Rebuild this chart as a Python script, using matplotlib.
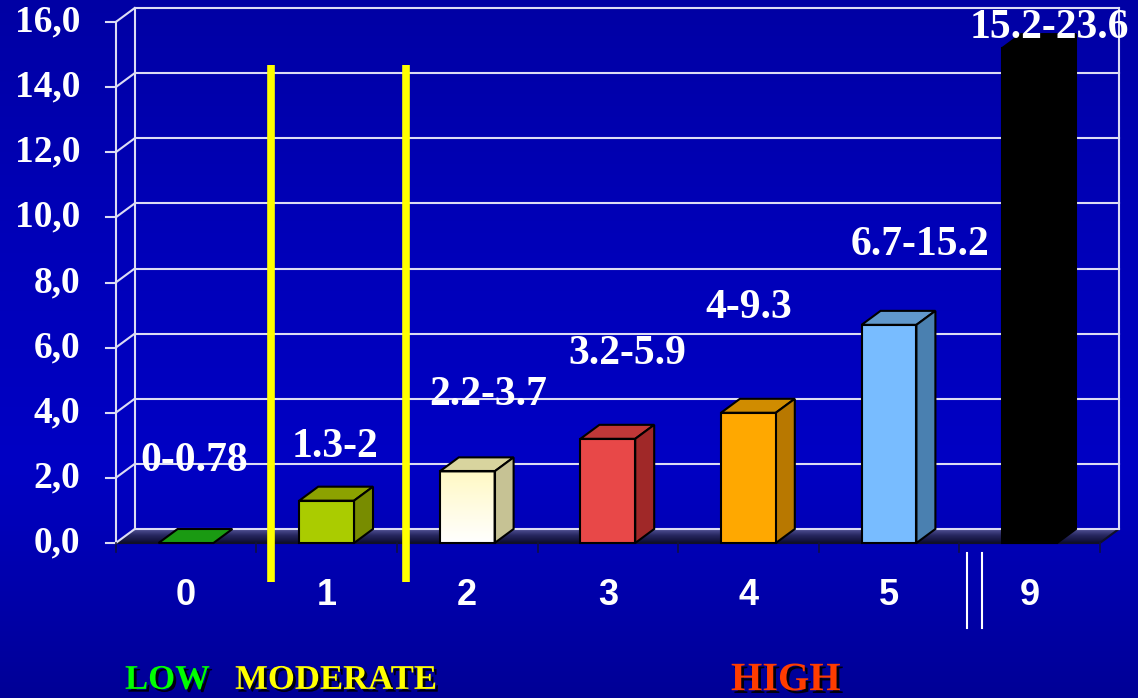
import numpy as np
import matplotlib.pyplot as plt
import matplotlib.patheffects as pe
from matplotlib.patches import Polygon
from matplotlib.colors import LinearSegmentedColormap

categories = ['0', '1', '2', '3', '4', '5', '9']
lower_bound = [0.0, 1.3, 2.2, 3.2, 4.0, 6.7, 15.2]
range_labels = ['0-0.78', '1.3-2', '2.2-3.7', '3.2-5.9', '4-9.3', '6.7-15.2', '15.2-23.6']
y_ticks = [0, 2, 4, 6, 8, 10, 12, 14, 16]
y_tick_labels = ['0,0', '2,0', '4,0', '6,0', '8,0', '10,0', '12,0', '14,0', '16,0']

# face colours: front (top/bottom of the shading), top, side
front_hi = ['#1a9a12', '#aacc00', '#fff9c4', '#e84848', '#ffa800', '#78bcff', '#000000']
front_lo = ['#1a9a12', '#aacc00', '#ffffff', '#e84848', '#ffa800', '#78bcff', '#000000']
top_col = ['#1a9a12', '#8ca200', '#d8d49e', '#c03838', '#d08c00', '#6098cc', '#000000']
side_col = ['#1a9a12', '#788c00', '#c6c294', '#a02828', '#b87800', '#4a80b0', '#000000']

# where the range text sits (x, baseline)
label_xy = [(0.06, 2.2), (1.06, 2.64), (2.15, 4.24), (3.14, 5.5),
            (4.0, 6.9), (5.22, 8.85), (6.14, 15.5)]

W = 0.39               # bar width
DX, DY = 0.135, 0.43   # depth offset of the 3D box
X0, X1 = -0.5, 6.5
SERIF = 'Liberation Serif'
SANS = 'Liberation Sans'

fig = plt.figure(figsize=(11.38, 6.98), dpi=100)
ax = fig.add_axes([0, 0, 1, 1])
xlim = (-1.323, 6.771)
ylim = (-4.76, 16.677)
ax.axis('off')

grad = np.linspace(0, 1, 256).reshape(-1, 1)

# background blue gradient
bg = LinearSegmentedColormap.from_list('bg', ['#000096', '#0000c4', '#0000b8', '#0000a4'])
ax.imshow(grad, cmap=bg, extent=(*xlim, *ylim), origin='lower', aspect='auto', zorder=0)

# floor
floor = Polygon([(X0, 0), (X1, 0), (X1 + DX, DY), (X0 + DX, DY)], closed=True,
                facecolor='none', edgecolor='none')
ax.add_patch(floor)
fcm = LinearSegmentedColormap.from_list('fl', ['#0c0c30', '#26265e', '#5a5aa0'])
im = ax.imshow(grad, cmap=fcm, extent=(X0, X1 + DX, 0, DY), origin='lower',
               aspect='auto', zorder=1)
im.set_clip_path(floor)
ax.plot([X0, X1, X1 + DX], [0, 0, DY], color='#101028', lw=1.5, zorder=2)

# walls and gridlines
gcol = '#dcdcf4'
for v in y_ticks:
    ax.plot([X0 + DX, X1 + DX], [v + DY, v + DY], color=gcol, lw=1.5, zorder=2)
    ax.plot([X0, X0 + DX], [v, v + DY], color=gcol, lw=1.5, zorder=2)
    ax.plot([X0 - 0.07, X0], [v, v], color=gcol, lw=1.5, zorder=2)
ax.plot([X0, X0], [0, y_ticks[-1]], color=gcol, lw=1.5, zorder=2)
ax.plot([X0 + DX, X0 + DX], [DY, y_ticks[-1] + DY], color=gcol, lw=1.5, zorder=2)
ax.plot([X1 + DX, X1 + DX], [DY, y_ticks[-1] + DY], color=gcol, lw=1.5, zorder=2)

# category ticks under the floor
for b in np.arange(X0, X1 + 0.01, 1.0):
    ax.plot([b, b], [0, -0.28], color='#101040', lw=1.2, zorder=2)

# 3D bars
for i, v in enumerate(lower_bound):
    l, r = i - W / 2, i + W / 2
    top = Polygon([(l, v), (r, v), (r + DX, v + DY), (l + DX, v + DY)], closed=True,
                  facecolor=top_col[i], edgecolor='black', lw=1.5, zorder=4)
    ax.add_patch(top)
    if v <= 0:
        continue
    side = Polygon([(r, 0), (r + DX, DY), (r + DX, v + DY), (r, v)], closed=True,
                   facecolor=side_col[i], edgecolor='black', lw=1.5, zorder=4)
    ax.add_patch(side)
    front = Polygon([(l, 0), (r, 0), (r, v), (l, v)], closed=True,
                    facecolor=front_hi[i], edgecolor='black', lw=1.5, zorder=4)
    ax.add_patch(front)
    if front_hi[i] != front_lo[i]:
        # shaded front face
        front.set_facecolor('none')
        cm = LinearSegmentedColormap.from_list('f%d' % i, [front_lo[i], front_hi[i]])
        fim = ax.imshow(grad, cmap=cm, extent=(l, r, 0, v), origin='lower',
                        aspect='auto', zorder=3)
        fim.set_clip_path(front)

# yellow separators
for xs in (0.605, 1.565):
    ax.plot([xs, xs], [-1.2, 14.68], color='#ffff00', lw=5.5, solid_capstyle='butt', zorder=6)

# axis break marks
for xs in (5.555, 5.661):
    ax.plot([xs, xs], [-0.31, -2.61], color='white', lw=1.5, zorder=6)

# y tick labels
for v, t in zip(y_ticks, y_tick_labels):
    ax.text(-0.75, v, t, ha='right', va='center', color='white',
            fontsize=27, fontweight='bold', family=SERIF, zorder=7)

# category labels
for i, c in enumerate(categories):
    ax.text(i, -1.6, c, ha='center', va='center', color='white',
            fontsize=26, fontweight='bold', family=SANS, zorder=7)

# range labels
for (lx, ly), t in zip(label_xy, range_labels):
    ax.text(lx, ly, t, ha='center', va='baseline', color='white',
            fontsize=30, fontweight='bold', family=SERIF, zorder=7)

# risk level captions
shadow = [pe.SimplePatchShadow(offset=(2, -2), shadow_rgbFace='black', alpha=0.9), pe.Normal()]
ax.text(-0.434, -4.48, 'LOW', ha='left', va='baseline', color='#00ff00',
        fontsize=25, fontweight='bold', family=SERIF, path_effects=shadow, zorder=7)
ax.text(0.349, -4.48, 'MODERATE', ha='left', va='baseline', color='#ffff00',
        fontsize=25, fontweight='bold', family=SERIF, path_effects=shadow, zorder=7)
ax.text(3.876, -4.52, 'HIGH', ha='left', va='baseline', color='#ff3c00',
        fontsize=29, fontweight='bold', family=SERIF, path_effects=shadow, zorder=7)

ax.set_xlim(*xlim)
ax.set_ylim(*ylim)
fig.savefig('out.png', dpi=100)
